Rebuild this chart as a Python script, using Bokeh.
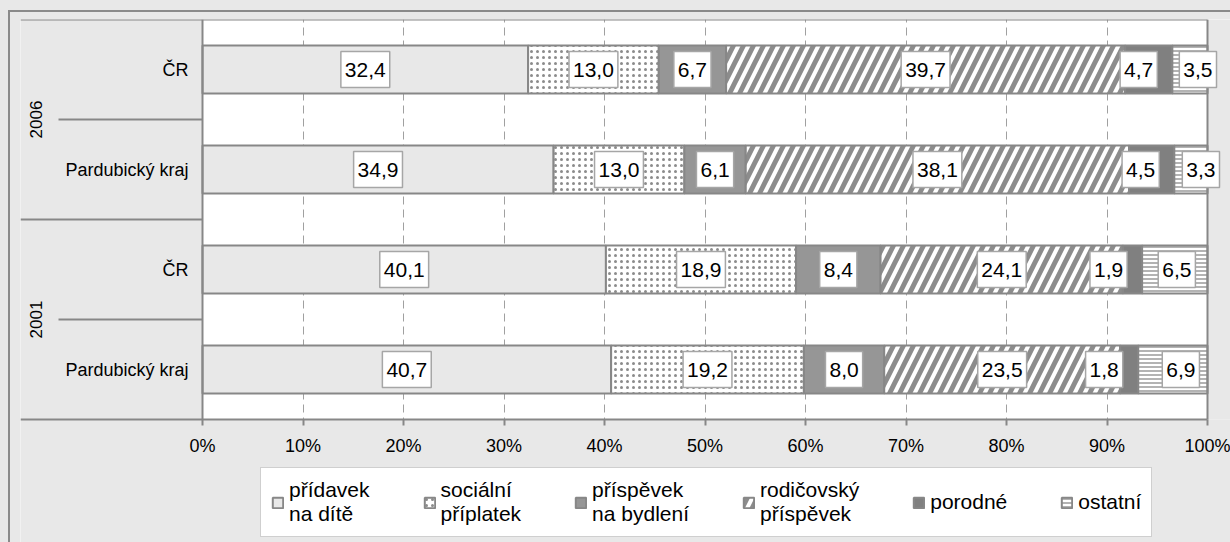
import math
from bokeh.plotting import figure
from bokeh.models import ColumnDataSource, FixedTicker, PrintfTickFormatter, Legend, LegendItem
from bokeh.core.properties import value
from bokeh.embed import file_html
from bokeh.resources import INLINE

# ---------------- data ----------------
row_years = ["2006", "2006", "2001", "2001"]
row_regions = ["ČR", "Pardubický kraj", "ČR", "Pardubický kraj"]
years = ["2006", "2001"]

series_names = ["přídavek na dítě", "sociální příplatek", "příspěvek na bydlení",
                "rodičovský příspěvek", "porodné", "ostatní"]
legend_labels = ["přídavek\nna dítě", "sociální\npříplatek", "příspěvek\nna bydlení",
                 "rodičovský\npříspěvek", "porodné", "ostatní"]

pridavek_na_dite = [32.4, 34.9, 40.1, 40.7]
socialni_priplatek = [13.0, 13.0, 18.9, 19.2]
prispevek_na_bydleni = [6.7, 6.1, 8.4, 8.0]
rodicovsky_prispevek = [39.7, 38.1, 24.1, 23.5]
porodne = [4.7, 4.5, 1.9, 1.8]
ostatni = [3.5, 3.3, 6.5, 6.9]

x_ticks = [0, 10, 20, 30, 40, 50, 60, 70, 80, 90, 100]

series_values = [pridavek_na_dite, socialni_priplatek, prispevek_na_bydleni,
                 rodicovsky_prispevek, porodne, ostatni]

# ---------------- style / layout ----------------
BG = "#e8e8e8"
EDGE = "#878787"
FONT = "Liberation Sans"
series_styles = [
    dict(fill_color="#e8e8e8"),
    dict(fill_color="white", hatch_pattern="dot", hatch_color="#8c8c8c", hatch_scale=6, hatch_weight=4),
    dict(fill_color="#969696"),
    dict(fill_color="white", hatch_pattern="right_diagonal_line", hatch_color="#8c8c8c", hatch_scale=20, hatch_weight=5),
    dict(fill_color="#808080"),
    dict(fill_color="white", hatch_pattern="horizontal_line", hatch_color="#a0a0a0", hatch_scale=4, hatch_weight=1.6),
]
# pixel nudges for crowded labels (row, series) -> px
label_nudge = {(0, 4): -10, (0, 5): 8, (1, 4): -11, (1, 5): 10,
               (2, 4): -24, (2, 5): 2, (3, 4): -25, (3, 5): 8}

n_rows = len(row_regions)
row_y = [n_rows - i - 0.5 for i in range(n_rows)]
PX_X = 10.05          # px per percent
PX_Y = 100.0          # px per row
X_LEFT = -182 / PX_X
X_RIGHT = 100 + 23 / PX_X
X_SHORT = X_LEFT + 38 / PX_X
Y_BOTTOM = -123 / PX_Y

p = figure(frame_width=1210, frame_height=523, x_range=(X_LEFT, X_RIGHT), y_range=(Y_BOTTOM, n_rows),
           output_backend="svg", toolbar_location=None, y_axis_location=None,
           min_border_left=20, min_border_right=0, min_border_top=19, min_border_bottom=0,
           background_fill_color="white", border_fill_color=None, outline_line_color=None)
p.styles = {
    "background-color": BG,
    "background-image": "linear-gradient(#8a8a8a, #8a8a8a), linear-gradient(#8a8a8a, #8a8a8a)",
    "background-size": "2px 100%, 100% 2px",
    "background-position": "8px 10px, 8px 10px",
    "background-repeat": "no-repeat",
}

# areas outside the plotting rectangle
p.quad(left=[X_LEFT, X_LEFT, 100], right=[0, X_RIGHT, X_RIGHT],
       bottom=[0, Y_BOTTOM, 0], top=[n_rows, 0, n_rows], fill_color=BG, line_color=None)

# stacked 100% bars
totals = [sum(series_values[s][r] for s in range(len(series_values))) for r in range(n_rows)]
cum = [0.0] * n_rows
lab_x, lab_y, lab_t, lab_off = [], [], [], []
items = []
for s, vals in enumerate(series_values):
    left = [cum[r] for r in range(n_rows)]
    right = [cum[r] + vals[r] / totals[r] * 100 for r in range(n_rows)]
    src = ColumnDataSource(dict(y=row_y, left=left, right=right))
    r_ = p.hbar(y="y", left="left", right="right", height=0.48, source=src,
                line_color=EDGE, line_width=2, **series_styles[s])
    items.append(LegendItem(label=legend_labels[s], renderers=[r_]))
    for r in range(n_rows):
        lab_x.append((left[r] + right[r]) / 2)
        lab_y.append(row_y[r])
        lab_t.append(f"{vals[r]:.1f}".replace(".", ","))
        lab_off.append(label_nudge.get((r, s), 0))
    cum = right

# frame lines (top, left, right, bottom) and group separators
p.segment(x0=[X_LEFT, 0, 100, X_LEFT, X_LEFT], x1=[100, 0, 100, 100, 0],
          y0=[n_rows, 0, 0, 0, n_rows / 2], y1=[n_rows, n_rows, n_rows, 0, n_rows / 2],
          line_color=EDGE, line_width=2)
grp_y = [n_rows - 1, n_rows - 3]
p.segment(x0=[X_SHORT] * 2, x1=[0] * 2, y0=grp_y, y1=grp_y, line_color=EDGE, line_width=2)

# value labels in white boxes
p.text(x=lab_x, y=lab_y, text=lab_t, x_offset=lab_off, text_align="center", text_baseline="middle",
       text_font=value(FONT), text_font_size="21px", text_color="black",
       background_fill_color="white", border_line_color="#a6a6a6", border_line_width=1.5,
       padding=(4, 11))

# category labels
p.text(x=[0] * n_rows, y=row_y, text=row_regions, x_offset=-14, text_align="right",
       text_baseline="middle", text_font=value(FONT), text_font_size="18px", text_color="black")
# group labels
p.text(x=[X_LEFT] * 2, y=grp_y, text=years, x_offset=15, angle=math.pi / 2,
       text_align="center", text_baseline="middle", text_font=value(FONT),
       text_font_size="17px", text_color="black")

# x axis, fixed at y = 0 inside the frame
ax = p.xaxis[0]
ax.fixed_location = 0
ax.ticker = FixedTicker(ticks=x_ticks)
ax.formatter = PrintfTickFormatter(format="%d%%")
ax.major_label_text_font = FONT
ax.major_label_text_font_size = "18px"
ax.major_label_text_color = "black"
ax.axis_line_color = None
ax.major_tick_line_color = EDGE
ax.major_tick_line_width = 2
ax.major_tick_out = 6
ax.major_tick_in = 0
ax.minor_tick_out = 0
ax.minor_tick_in = 0
ax.major_label_standoff = 10

p.xgrid.ticker = FixedTicker(ticks=x_ticks[1:-1])
p.xgrid.grid_line_color = "#a0a0a0"
p.xgrid.grid_line_dash = "8 5"
p.xgrid.grid_line_width = 1
p.ygrid.visible = False

legend = Legend(items=items, orientation="horizontal", location=(240, 5),
                padding=10, spacing=53, label_standoff=5, glyph_width=13, glyph_height=13,
                label_text_font=FONT, label_text_font_size="21px", label_text_color="black",
                border_line_color="#a0a0a0", border_line_width=1.5,
                background_fill_color="white", background_fill_alpha=1.0, margin=0)
p.add_layout(legend)

open("out.html", "w").write(file_html(p, INLINE))
